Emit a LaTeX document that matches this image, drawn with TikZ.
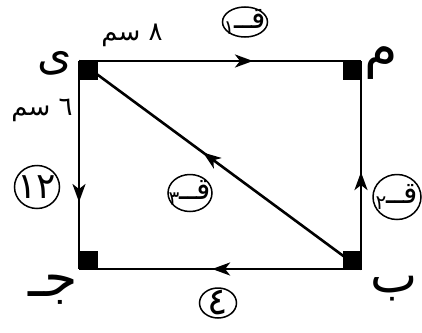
\documentclass[tikz,border=0pt]{standalone}
\usepackage{fontspec}
\TeXXeTstate=1
\newfontfamily\arabicfont[Script=Arabic]{DejaVu Sans}
\usetikzlibrary{decorations.markings,arrows.meta,shapes.geometric}
\newcommand{\forcetext}[1]{\beginR قــ\raisebox{-6pt}{\fontsize{20}{20}\selectfont #1}\endR}
\begin{document}
\begin{tikzpicture}[x=1pt,y=-1pt,
  edge/.style={line width=2.6pt},
  corner/.style={fill=black,minimum size=19pt,inner sep=0pt,outer sep=0pt},
  forcetxt/.style={inner sep=0pt,font=\arabicfont\fontsize{30}{30}\selectfont},
  ring/.style={line width=1.5pt},
  lbl/.style={font=\arabicfont\fontsize{26}{26}\selectfont,inner sep=0pt},
  vtx/.style={font=\arabicfont\fontsize{54}{54}\selectfont,inner sep=0pt},
  midarrow/.style={postaction={decorate},decoration={markings,mark=at position #1 with {\arrow{Stealth[length=18pt,width=13pt,inset=5pt]}}}}
]
\useasboundingbox[fill=white] (0,0) rectangle (422,332);
\coordinate (A) at (361,61);
\coordinate (B) at (361,269);
\coordinate (C) at (79,269);
\coordinate (D) at (79,61);
\draw[edge,midarrow=0.617] (D) -- (A);
\draw[edge,midarrow=0.466] (B) -- (A);
\draw[edge,midarrow=0.528] (B) -- (C);
\draw[edge,midarrow=0.678] (D) -- (C);
\draw[edge,midarrow=0.56] (B) -- (D);
\node[corner] (sA) at (352,70) {};
\node[corner] (sB) at (352,260) {};
\node[corner] (sC) at (88,260) {};
\node[corner] (sD) at (88,70) {};
\node[vtx] (la) at (381,63) {\beginR م\endR};
\node[vtx,font=\arabicfont\fontsize{44}{44}\selectfont] (ld) at (55,63) {\beginR ى\endR};
\node[vtx] (lc) at (53,290) {\beginR جـ\endR};
\node[vtx,font=\arabicfont\fontsize{50}{50}\selectfont] (lb) at (394,289) {\beginR ب\endR};
\node[lbl] (len8) at (132,35) {\beginR ٨ سم\endR};
\node[lbl] (len6) at (42,110) {\beginR ٦ سم\endR};
\node[forcetxt] (f1) at (245,22) {\forcetext{١}};
\draw[ring] (f1.center) ellipse [x radius=22.5pt, y radius=15pt];
\node[forcetxt] (f2) at (397,197) {\forcetext{٢}};
\draw[ring] (f2.center) ellipse [x radius=24pt, y radius=22.5pt];
\node[forcetxt] (f3) at (190,193) {\forcetext{٣}};
\draw[ring] (f3.center) ellipse [x radius=22pt, y radius=18.5pt];
\node[forcetxt,font=\arabicfont\fontsize{36}{36}\selectfont] (f12) at (37,187) {١٢};
\draw[ring] (f12.center) ellipse [x radius=22.5pt, y radius=21.5pt];
\node[forcetxt,font=\arabicfont\fontsize{38}{38}\selectfont] (f4) at (218,303) {٤};
\draw[ring] (f4.center) ellipse [x radius=18.5pt, y radius=15pt];
\end{tikzpicture}
\end{document}
